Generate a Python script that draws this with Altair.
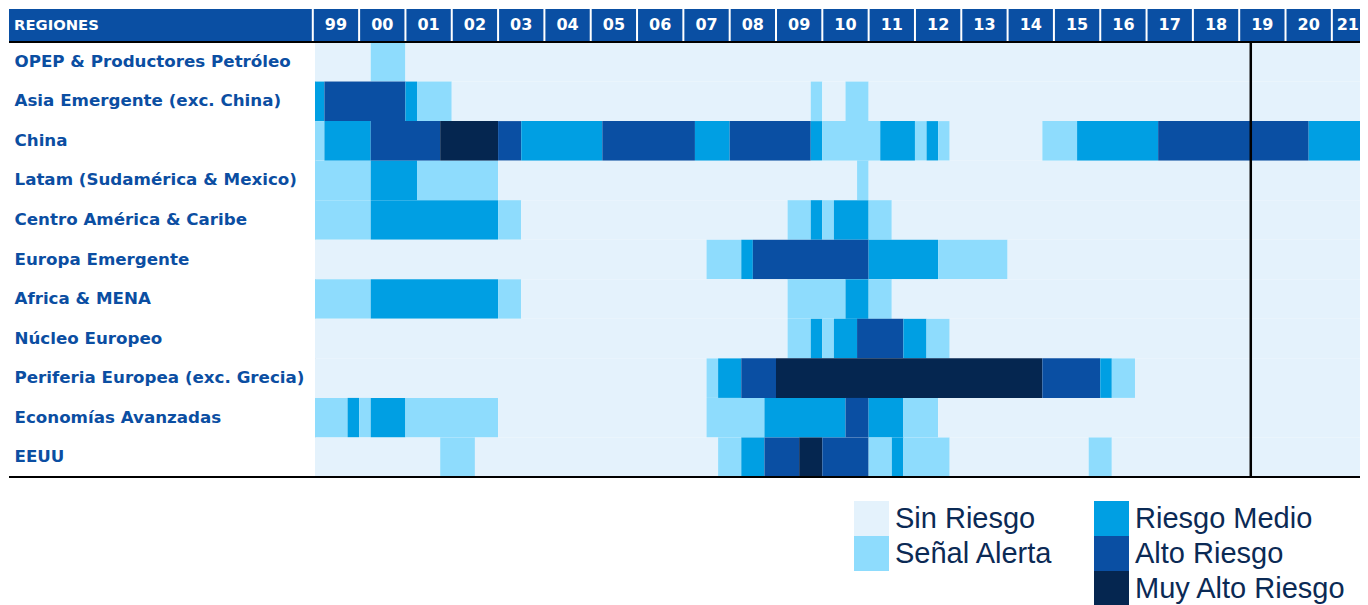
import altair as alt
import pandas as pd

# ---------------- data ----------------
regions = [
    "OPEP & Productores Petróleo",
    "Asia Emergente (exc. China)",
    "China",
    "Latam (Sudamérica & Mexico)",
    "Centro América & Caribe",
    "Europa Emergente",
    "Africa & MENA",
    "Núcleo Europeo",
    "Periferia Europea (exc. Grecia)",
    "Economías Avanzadas",
    "EEUU",
]
levels = ["Sin Riesgo", "Señal Alerta", "Riesgo Medio", "Alto Riesgo", "Muy Alto Riesgo"]
level_colors = ["#E4F2FC", "#8EDCFD", "#009FE3", "#0A4FA3", "#052650"]

year_labels = ["99", "00", "01", "02", "03", "04", "05", "06", "07", "08", "09", "10",
               "11", "12", "13", "14", "15", "16", "17", "18", "19", "20", "21"]
first_year = 1999
last_obs = 2019.25  # vertical marker (2019 Q2)

# quarterly runs from 1999Q1: (risk level index, number of quarters)
opep = [(0, 5), (1, 3), (0, 84)]
asia = [(2, 1), (3, 7), (2, 1), (1, 3), (0, 31), (1, 1), (0, 2), (1, 2), (0, 44)]
china = [(1, 1), (2, 4), (3, 6), (4, 5), (3, 2), (2, 7), (3, 8), (2, 3), (3, 7), (2, 1),
         (1, 5), (2, 3), (1, 1), (2, 1), (1, 1), (0, 8), (1, 3), (2, 7), (3, 13), (2, 6)]
latam = [(1, 5), (2, 4), (1, 7), (0, 31), (1, 1), (0, 44)]
centro = [(1, 5), (2, 11), (1, 2), (0, 23), (1, 2), (2, 1), (1, 1), (2, 3), (1, 2), (0, 42)]
europa_em = [(0, 34), (1, 3), (2, 1), (3, 10), (2, 6), (1, 6), (0, 32)]
africa = [(1, 5), (2, 11), (1, 2), (0, 23), (1, 5), (2, 2), (1, 2), (0, 42)]
nucleo = [(0, 41), (1, 2), (2, 1), (1, 1), (2, 2), (3, 4), (2, 2), (1, 2), (0, 37)]
periferia = [(0, 34), (1, 1), (2, 2), (3, 3), (4, 23), (3, 5), (2, 1), (1, 2), (0, 21)]
avanzadas = [(1, 3), (2, 1), (1, 1), (2, 3), (1, 8), (0, 18), (1, 5), (2, 7), (3, 2),
             (2, 3), (1, 3), (0, 38)]
eeuu = [(0, 11), (1, 3), (0, 21), (1, 2), (2, 2), (3, 3), (4, 2), (3, 4), (1, 2), (2, 1),
        (1, 4), (0, 12), (1, 2), (0, 23)]

runs = [opep, asia, china, latam, centro, europa_em, africa, nucleo, periferia, avanzadas, eeuu]

# ---------------- tables ----------------
cells = []
for reg, rr in zip(regions, runs):
    q = 0
    for lev, n in rr:
        cells.append({"region": reg, "t0": first_year + q / 4, "t1": first_year + (q + n) / 4,
                      "level": levels[lev]})
        q += n
cells_df = pd.DataFrame(cells)

years_df = pd.DataFrame({
    "t": [first_year + i for i in range(len(year_labels))],
    "tc": [first_year + i + 0.5 for i in range(len(year_labels))],
    "label": year_labels,
})
inner_years = years_df.iloc[:-1]
last_year = years_df.iloc[-1:]
one = pd.DataFrame({"a": [0]})

# legend laid out column-major (3 rows x 2 columns) with a blank placeholder
legend_domain = ["Sin Riesgo", "Señal Alerta", " ", "Riesgo Medio", "Alto Riesgo", "Muy Alto Riesgo"]
legend_range = [level_colors[0], level_colors[1], "#FFFFFF", level_colors[2], level_colors[3], level_colors[4]]

W, H = 1045, 435
HEADER = "#0A4FA3"
LABEL = "#0B4EA2"

xscale = alt.Scale(domain=[1999.0475, 1999.0475 + W / 46.32], nice=False, zero=False)

heat = alt.Chart(cells_df).mark_rect(clip=True).encode(
    x=alt.X("t0:Q", scale=xscale, axis=None),
    x2="t1:Q",
    y=alt.Y("region:N", sort=regions, scale=alt.Scale(paddingInner=0, paddingOuter=0),
            axis=alt.Axis(title=None, ticks=False, domain=False, labelAlign="left",
                          labelPadding=301, labelFont="DejaVu Sans", labelFontWeight="bold",
                          labelFontSize=16.7, labelColor=LABEL, labelLimit=400)),
    color=alt.Color("level:N", scale=alt.Scale(domain=legend_domain, range=legend_range),
                    legend=alt.Legend(title=None, orient="none", legendX=539, legendY=459,
                                      columns=2, columnPadding=41, rowPadding=0,
                                      symbolType="square", symbolSize=1225,
                                      symbolStrokeWidth=0, symbolOpacity=1,
                                      labelFont="Liberation Sans", labelFontSize=29,
                                      labelColor="#0B2A55", labelOffset=6, labelLimit=400,
                                      padding=0)),
)

vline = alt.Chart(one).mark_rule(color="black", strokeWidth=2.5).encode(
    x=alt.datum(last_obs, scale=xscale), y=alt.value(0), y2=alt.value(H)
)

top_gray = alt.Chart(one).mark_rule(color="#D9D9D9", strokeWidth=1.5).encode(
    x=alt.value(-307), x2=alt.value(W), y=alt.value(-35)
)
header_bg = alt.Chart(one).mark_rect(color=HEADER).encode(
    x=alt.value(-306), x2=alt.value(W), y=alt.value(-33), y2=alt.value(0)
)
header_sep = alt.Chart(years_df).mark_rule(color="white", strokeWidth=2).encode(
    x=alt.X("t:Q", scale=xscale), y=alt.value(-33), y2=alt.value(-1)
)
header_txt = alt.Chart(inner_years).mark_text(
    color="white", font="DejaVu Sans", fontWeight="bold", fontSize=16, baseline="middle"
).encode(x=alt.X("tc:Q", scale=xscale), y=alt.value(-17), text="label:N")
# last year label kept fully inside the right edge
header_last = alt.Chart(last_year).mark_text(
    color="white", font="DejaVu Sans", fontWeight="bold", fontSize=16, baseline="middle",
    align="right"
).encode(x=alt.value(W - 1), y=alt.value(-17), text="label:N")
regiones_txt = alt.Chart(one).mark_text(
    text="REGIONES", color="white", font="DejaVu Sans", fontWeight="bold", fontSize=14.8,
    align="left", baseline="middle"
).encode(x=alt.value(-301), y=alt.value(-16))

top_line = alt.Chart(one).mark_rule(color="black", strokeWidth=2).encode(
    x=alt.value(-306), x2=alt.value(W), y=alt.value(0)
)
bottom_line = alt.Chart(one).mark_rule(color="black", strokeWidth=2).encode(
    x=alt.value(-306), x2=alt.value(W), y=alt.value(H)
)

chart = alt.layer(
    heat, vline, top_gray, header_bg, header_sep, header_txt, header_last, regiones_txt,
    top_line, bottom_line
).properties(
    width=W, height=H,
    autosize=alt.AutoSizeParams(type="none"),
    padding={"left": 307, "top": 34, "right": 0, "bottom": 140},
).configure_view(stroke=None).configure(background="white")

chart.save("out.html", embed_options={"renderer": "svg", "actions": False})
